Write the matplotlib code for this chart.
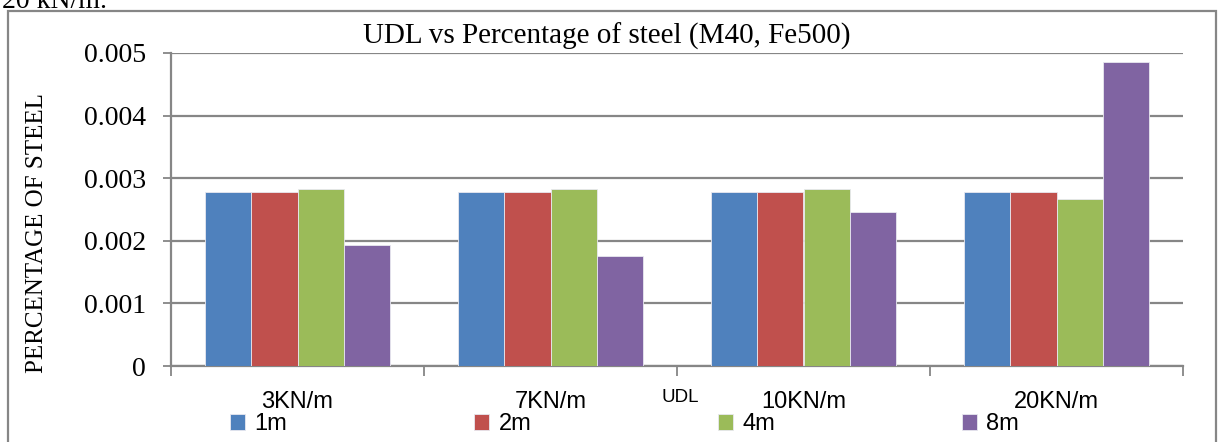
import matplotlib
matplotlib.use("Agg")
import matplotlib.pyplot as plt
import numpy as np
from matplotlib.patches import Rectangle

categories = ["3KN/m", "7KN/m", "10KN/m", "20KN/m"]
spans = ["1m", "2m", "4m", "8m"]
steel_1m = [0.00278, 0.00278, 0.00278, 0.00278]
steel_2m = [0.00278, 0.00278, 0.00278, 0.00278]
steel_4m = [0.00283, 0.00283, 0.00283, 0.00266]
steel_8m = [0.00193, 0.00176, 0.00246, 0.00485]
yticks = [0, 0.001, 0.002, 0.003, 0.004, 0.005]
ytick_labels = ["0", "0.001", "0.002", "0.003", "0.004", "0.005"]

colors = ["#4F81BD", "#C0504D", "#9BBB59", "#8064A2"]
grid_col = "#868686"
serif = ["Liberation Serif", "DejaVu Serif"]
sans = ["Liberation Sans", "DejaVu Sans"]

fig = plt.figure(figsize=(12.19, 4.42), dpi=100)
ax = fig.add_axes([171 / 1219, 1 - 366 / 442, (1183 - 171) / 1219, (366 - 53) / 442])

x = np.arange(len(categories))
w = 0.182
series = [steel_1m, steel_2m, steel_4m, steel_8m]
handles = []
for i, vals in enumerate(series):
    b = ax.bar(x + (i - 1.5) * w, vals, width=w, color=colors[i],
               edgecolor="#e8e8f0", linewidth=0.6, zorder=3, label=spans[i])
    handles.append(b)

ax.set_xlim(-0.5, 3.5)
ax.set_ylim(0, 0.005)
ax.set_yticks(yticks)
ax.set_yticklabels(ytick_labels, family=serif, fontsize=20)
ax.yaxis.grid(True, color=grid_col, linewidth=1.6, zorder=0)
ax.set_axisbelow(True)

# category ticks between groups, labels centred on groups
ax.set_xticks(np.arange(-0.5, 4.0, 1.0))
ax.set_xticklabels([])
ax.set_xticks(x, minor=True)
ax.set_xticklabels(categories, minor=True, family=sans, fontsize=17)
ax.tick_params(axis="x", which="minor", length=0, pad=18)
ax.tick_params(axis="x", which="major", length=7, width=1.3, color=grid_col, direction="out")
ax.tick_params(axis="y", length=6, width=1.3, color=grid_col, direction="out", pad=12)

for s in ["top", "right"]:
    ax.spines[s].set_visible(False)
for s in ["left", "bottom"]:
    ax.spines[s].set_color(grid_col)
    ax.spines[s].set_linewidth(1.6)

ax.set_ylabel("PERCENTAGE OF STEEL", family=serif, fontsize=18)
ax.yaxis.set_label_coords(-0.122, 0.425)

fig.text(607 / 1219, 1 - 36 / 442, "UDL vs Percentage of steel (M40, Fe500)",
         family=serif, fontsize=21, ha="center", va="center")
fig.text(680 / 1219, 1 - 397 / 442, "UDL", family=sans, fontsize=13.5,
         ha="center", va="center")

# text of the page cut at the top
fig.text(0.002, 1 - 8 / 442, "20 kN/m.", family=serif, fontsize=20,
         ha="left", va="baseline")

# chart frame
fig.patches.append(Rectangle((8 / 1219, -0.02), (1216 - 8) / 1219, 1.02 - 11 / 442,
                             transform=fig.transFigure, fill=False,
                             edgecolor=grid_col, linewidth=1.6))

leg = fig.legend(handles, spans, loc="center left", ncol=4,
                 bbox_to_anchor=(230 / 1219, 1 - 424 / 442),
                 frameon=False, prop={"family": sans, "size": 17},
                 handlelength=0.64, handleheight=0.64, handletextpad=0.4,
                 columnspacing=7.9, borderpad=0, borderaxespad=0)

fig.savefig("out.png", dpi=100)
